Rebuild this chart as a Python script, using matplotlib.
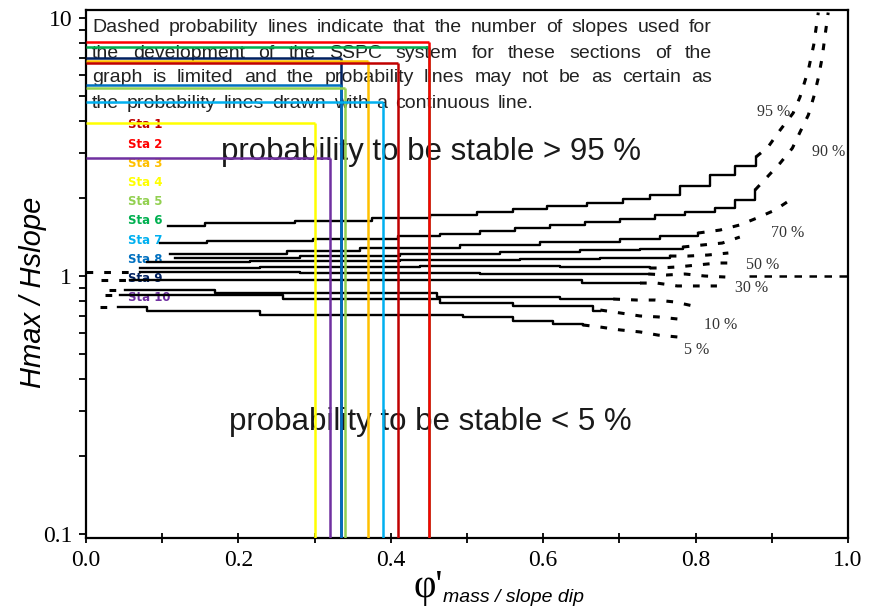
import matplotlib
matplotlib.use('Agg')
import matplotlib.pyplot as plt
from matplotlib.ticker import FixedLocator, FixedFormatter, NullFormatter

W, H = 874, 614
plt.rcParams['font.family'] = ['Liberation Serif', 'DejaVu Serif']

# stations: H max / H slope and phi'mass / slope dip
sta_names = ['Sta 1', 'Sta 2', 'Sta 3', 'Sta 4', 'Sta 5',
             'Sta 6', 'Sta 7', 'Sta 8', 'Sta 9', 'Sta 10']
sta_colors = ['#C00000', '#FF0000', '#FFC000', '#FFFF00', '#92D050',
              '#00B050', '#00B0F0', '#0070C0', '#002060', '#7030A0']
sta_h = [6.69, 8.07, 6.81, 3.92, 5.36, 7.72, 4.73, 5.50, 7.00, 2.87]
sta_phi = [0.41, 0.45, 0.37, 0.30, 0.34, 0.45, 0.39, 0.335, 0.335, 0.32]
sta_order = [5, 8, 7, 9, 3, 4, 2, 6, 0, 1]

# probability lines: solid (stepped) part and dashed continuation
p95_x = [0.108, 0.156, 0.274, 0.375, 0.451, 0.513, 0.560, 0.605, 0.657, 0.705, 0.740, 0.780, 0.819, 0.852, 0.879]
p95_y = [1.56, 1.60, 1.63, 1.68, 1.72, 1.77, 1.82, 1.87, 1.92, 1.99, 2.06, 2.23, 2.46, 2.67, 2.89]
p95_dx = [0.879, 0.895, 0.911, 0.928, 0.937, 0.948, 0.955, 0.961]
p95_dy = [2.89, 3.16, 3.68, 4.28, 4.94, 6.29, 7.86, 10.5]

p90_x = [0.097, 0.159, 0.298, 0.409, 0.465, 0.517, 0.563, 0.609, 0.655, 0.701, 0.747, 0.786, 0.825, 0.852, 0.878]
p90_y = [1.342, 1.367, 1.391, 1.429, 1.455, 1.494, 1.535, 1.577, 1.620, 1.663, 1.723, 1.770, 1.835, 1.970, 2.154]
p90_dx = [0.878, 0.894, 0.911, 0.927, 0.937, 0.948, 0.955, 0.961, 0.966, 0.970, 0.974]
p90_dy = [2.154, 2.42, 2.74, 3.13, 3.61, 4.21, 4.94, 5.85, 7.0, 8.6, 10.5]

p80_x = [0.110, 0.264, 0.360, 0.491, 0.596, 0.701, 0.753, 0.803]
p80_y = [1.217, 1.250, 1.284, 1.318, 1.354, 1.391, 1.429, 1.467]
p80_dx = [0.803, 0.832, 0.858, 0.881, 0.904, 0.924]
p80_dy = [1.467, 1.507, 1.577, 1.68, 1.80, 1.97]

p70_x = [0.117, 0.281, 0.412, 0.543, 0.648, 0.727, 0.783]
p70_y = [1.174, 1.195, 1.217, 1.239, 1.261, 1.273, 1.295]
p70_dx = [0.783, 0.808, 0.835, 0.858]
p70_dy = [1.295, 1.318, 1.342, 1.416]

p60_x = [0.080, 0.215, 0.412, 0.570, 0.675, 0.766]
p60_y = [1.133, 1.143, 1.153, 1.164, 1.174, 1.195]
p60_dx = [0.766, 0.790, 0.816, 0.843]
p60_dy = [1.195, 1.195, 1.206, 1.228]

p50_x = [0.071, 0.228, 0.438, 0.622, 0.740]
p50_y = [1.074, 1.084, 1.093, 1.084, 1.074]
p50_dx = [0.740, 0.751, 0.776, 0.802, 0.829, 0.849]
p50_dy = [1.074, 1.074, 1.084, 1.103, 1.123, 1.123]

p40_x = [0.071, 0.281, 0.517, 0.675, 0.738]
p40_y = [1.036, 1.027, 1.018, 1.018, 1.018]
p40_dx = [0.738, 0.762, 0.786, 0.812, 0.839]
p40_dy = [1.018, 1.009, 1.018, 1.0, 0.991]

p30_x = [0.058, 0.651, 0.727]
p30_y = [0.965, 0.939, 0.939]
p30_dx = [0.727, 0.749, 0.776, 0.802, 0.828]
p30_dy = [0.939, 0.939, 0.915, 0.915, 0.915]

p20_x = [0.051, 0.169, 0.461, 0.622, 0.692]
p20_y = [0.883, 0.859, 0.829, 0.814, 0.814]
p20_dx = [0.692, 0.723, 0.747, 0.773, 0.797]
p20_dy = [0.814, 0.807, 0.807, 0.793, 0.765]

p10_x = [0.045, 0.259, 0.465, 0.560, 0.665, 0.675]
p10_y = [0.844, 0.814, 0.786, 0.765, 0.732, 0.732]
p10_dx = [0.675, 0.701, 0.727, 0.751, 0.777]
p10_dy = [0.738, 0.719, 0.700, 0.694, 0.681]

p5_x = [0.042, 0.080, 0.228, 0.495, 0.560, 0.613, 0.652]
p5_y = [0.758, 0.732, 0.706, 0.694, 0.669, 0.652, 0.646]
p5_dx = [0.652, 0.675, 0.701, 0.727, 0.751, 0.777]
p5_dy = [0.646, 0.634, 0.618, 0.607, 0.590, 0.580]

# short dashed starts on the left of the lower lines
left_x = [[0.0, 0.071], [0.020, 0.058], [0.030, 0.051], [0.025, 0.045], [0.018, 0.030]]
left_y = [[1.036, 1.036], [0.965, 0.965], [0.883, 0.883], [0.844, 0.844], [0.758, 0.758]]

ref_line_x = [0.87, 1.0]   # dashed line at H ratio = 1

pct_labels = ['95 %', '90 %', '70 %', '50 %', '30 %', '10 %', '5 %']
pct_x = [0.902, 0.974, 0.921, 0.888, 0.874, 0.833, 0.802]
pct_y = [4.32, 3.02, 1.467, 1.103, 0.898, 0.646, 0.517]

note_lines = [
    'Dashed probability lines indicate that the number of slopes used for',
    'the development of the SSPC system for these sections of the',
    'graph is limited and the probability lines may not be as certain as',
    'the probability lines drawn with a continuous line.',
]

curves = [(p95_x, p95_y, p95_dx, p95_dy), (p90_x, p90_y, p90_dx, p90_dy),
          (p80_x, p80_y, p80_dx, p80_dy), (p70_x, p70_y, p70_dx, p70_dy),
          (p60_x, p60_y, p60_dx, p60_dy), (p50_x, p50_y, p50_dx, p50_dy),
          (p40_x, p40_y, p40_dx, p40_dy), (p30_x, p30_y, p30_dx, p30_dy),
          (p20_x, p20_y, p20_dx, p20_dy), (p10_x, p10_y, p10_dx, p10_dy),
          (p5_x, p5_y, p5_dx, p5_dy)]

fig = plt.figure(figsize=(W / 100, H / 100), dpi=100)
ax = fig.add_axes([86 / W, 76 / H, 762 / W, 528 / H])
ax.set_yscale('log')
ax.set_xlim(0, 1)
ax.set_ylim(0.0965, 10.74)

dash = (0, (2.2, 3.6))
for cx, cy, dx, dy in curves:
    ax.plot(cx, cy, color='black', lw=1.7, drawstyle='steps-post', zorder=3)
    ax.plot(dx, dy, color='black', lw=2.2, ls=dash, zorder=3)
for lx, ly in zip(left_x, left_y):
    ax.plot(lx, ly, color='black', lw=2.2, ls=dash, zorder=3)
ax.plot(ref_line_x, [1, 1], color='black', lw=1.8, ls=(0, (3, 3)), zorder=3)

ymin = ax.get_ylim()[0]
for i in sta_order:
    ax.hlines(sta_h[i], 0, sta_phi[i], color=sta_colors[i], lw=1.8, zorder=4)
    ax.vlines(sta_phi[i], ymin, sta_h[i], color=sta_colors[i], lw=1.8, zorder=4)

# station legend
for k, (name, col) in enumerate(zip(sta_names, sta_colors)):
    ax.text(128 / W, 1 - (125 + 19.2 * k) / H, name, transform=fig.transFigure,
            color=col, fontsize=8.5, fontweight='bold', family='DejaVu Sans',
            ha='left', va='center', zorder=2)

for t, x, y in zip(pct_labels, pct_x, pct_y):
    ax.text(x, y, t, fontsize=11.5, color='#333333', ha='center', va='center', zorder=5)

ax.text(431 / W, 1 - 152 / H, 'probability to be stable > 95 %', transform=fig.transFigure,
        family='Liberation Sans', fontsize=22.5, color='#1a1a1a', ha='center', va='center', zorder=2)
ax.text(430 / W, 1 - 422 / H, 'probability to be stable < 5 %', transform=fig.transFigure,
        family='Liberation Sans', fontsize=22.5, color='#1a1a1a', ha='center', va='center', zorder=2)

# justified note in the top left corner
renderer = fig.canvas.get_renderer()
x0, x1 = 92, 712
note_size = 14
for k, line in enumerate(note_lines):
    words = line.split()
    ypos = 1 - (28 + 25 * k) / H
    texts = [ax.text(0, ypos, w, transform=fig.transFigure, family='Liberation Sans',
                     fontsize=note_size, color='#222222', ha='left', va='center', zorder=2)
             for w in words]
    widths = [t.get_window_extent(renderer).width for t in texts]
    if k < len(note_lines) - 1:
        gap = (x1 - x0 - sum(widths)) / (len(words) - 1)
    else:
        gap = note_size * 0.4 * 100 / 72
    xpos = x0
    for t, w in zip(texts, widths):
        t.set_x(xpos / W)
        xpos += w + gap

# axes styling
ax.xaxis.set_major_locator(FixedLocator([0.0, 0.2, 0.4, 0.6, 0.8, 1.0]))
ax.xaxis.set_major_formatter(FixedFormatter(['0.0', '0.2', '0.4', '0.6', '0.8', '1.0']))
ax.xaxis.set_minor_locator(FixedLocator([0.1, 0.3, 0.5, 0.7, 0.9]))
ax.yaxis.set_major_locator(FixedLocator([0.1, 1, 10]))
ax.yaxis.set_major_formatter(FixedFormatter(['0.1', '1', '10']))
ax.yaxis.set_minor_locator(FixedLocator([0.2, 0.3, 0.4, 0.5, 0.6, 0.7, 0.8, 0.9,
                                         2, 3, 4, 5, 6, 7, 8, 9]))
ax.yaxis.set_minor_formatter(NullFormatter())
ax.tick_params(axis='x', which='both', direction='inout', length=7, width=1.3,
               pad=5, labelsize=17)
ax.tick_params(axis='y', which='both', direction='out', length=5, width=1.3,
               pad=5, labelsize=17)
for s in ax.spines.values():
    s.set_linewidth(1.6)

fig.text(33 / W, 1 - 292 / H, 'Hmax / Hslope', rotation=90, style='italic',
         family='Liberation Sans', fontsize=21, ha='center', va='center')
fig.text(428 / W, 1 - 588 / H, "\u03c6'", family='Liberation Serif', fontsize=28,
         ha='center', va='center')
fig.text(443 / W, 1 - 598 / H, 'mass / slope dip', style='italic',
         family='Liberation Sans', fontsize=14, ha='left', va='center')

fig.savefig('out.png', dpi=100)
